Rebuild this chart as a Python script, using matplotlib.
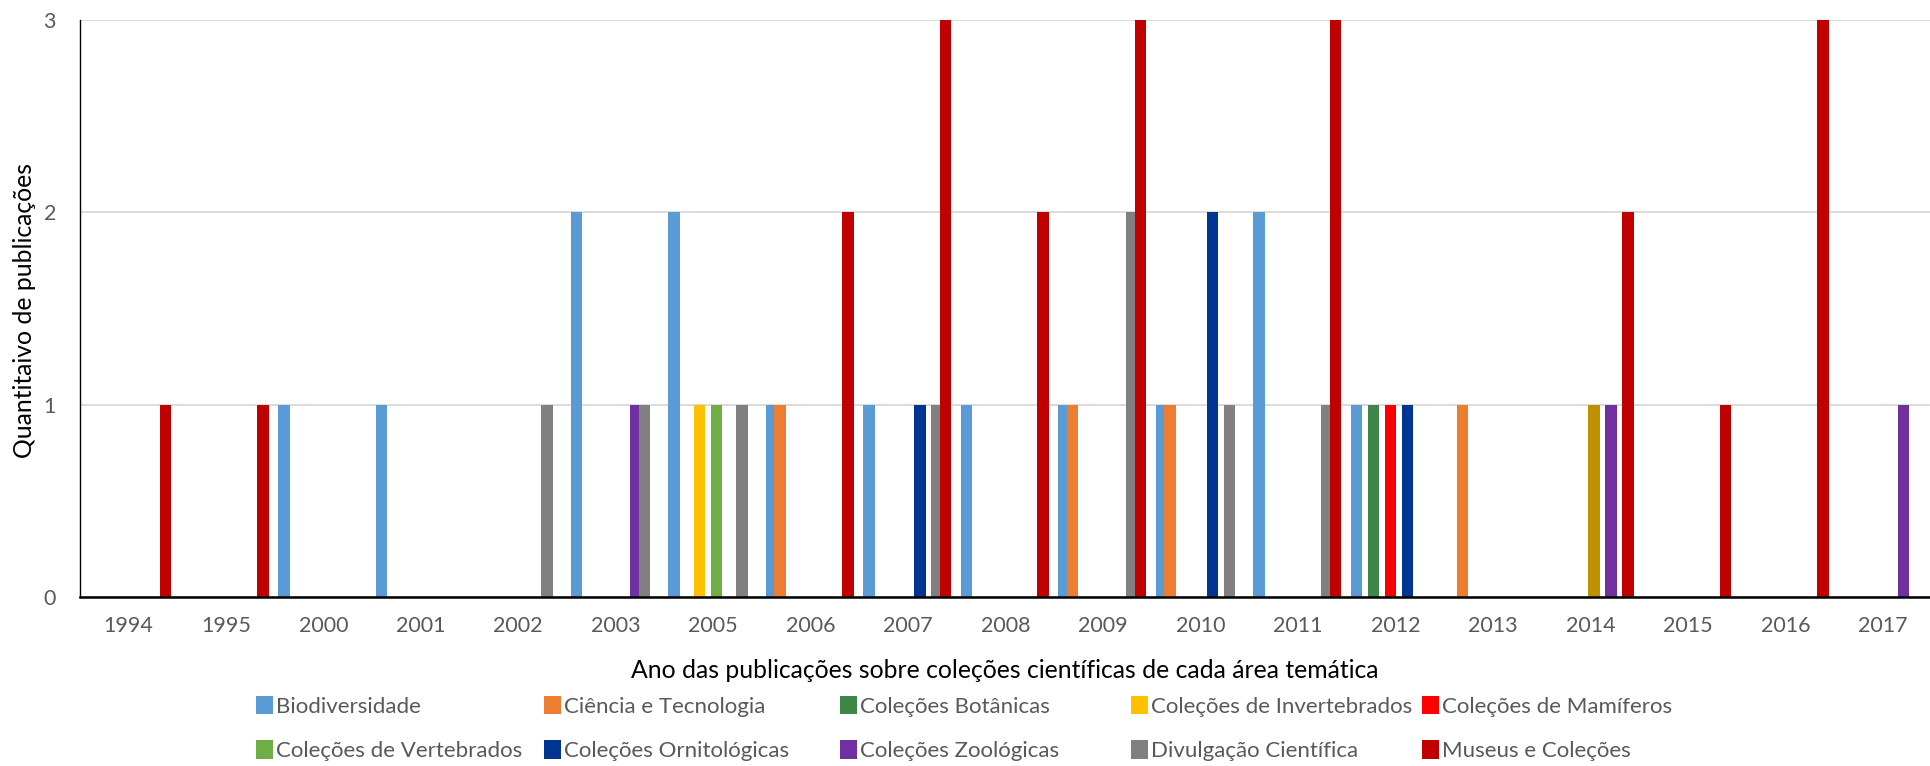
import matplotlib
matplotlib.use("Agg")
import matplotlib.pyplot as plt
from matplotlib.patches import Patch
import numpy as np

plt.rcParams["font.family"] = ["Lato", "DejaVu Sans"]

years = [1994, 1995, 2000, 2001, 2002, 2003, 2005, 2006, 2007, 2008,
         2009, 2010, 2011, 2012, 2013, 2014, 2015, 2016, 2017]

# publications per year, one list per thematic area
biodiversidade = [0, 0, 1, 1, 0, 2, 2, 1, 1, 1, 1, 1, 2, 1, 0, 0, 0, 0, 0]
ciencia_tecnologia = [0, 0, 0, 0, 0, 0, 0, 1, 0, 0, 1, 1, 0, 0, 1, 0, 0, 0, 0]
botanicas = [0, 0, 0, 0, 0, 0, 0, 0, 0, 0, 0, 0, 0, 1, 0, 0, 0, 0, 0]
invertebrados = [0, 0, 0, 0, 0, 0, 1, 0, 0, 0, 0, 0, 0, 0, 0, 0, 0, 0, 0]
mamiferos = [0, 0, 0, 0, 0, 0, 0, 0, 0, 0, 0, 0, 0, 1, 0, 0, 0, 0, 0]
vertebrados = [0, 0, 0, 0, 0, 0, 1, 0, 0, 0, 0, 0, 0, 0, 0, 1, 0, 0, 0]
ornitologicas = [0, 0, 0, 0, 0, 0, 0, 0, 1, 0, 0, 2, 0, 1, 0, 0, 0, 0, 0]
zoologicas = [0, 0, 0, 0, 0, 1, 0, 0, 0, 0, 0, 0, 0, 0, 0, 1, 0, 0, 1]
divulgacao = [0, 0, 0, 0, 1, 1, 1, 0, 1, 0, 2, 1, 1, 0, 0, 0, 0, 0, 0]
museus = [1, 1, 0, 0, 0, 0, 0, 2, 3, 2, 3, 0, 3, 0, 0, 2, 1, 3, 0]

series_names = ["Biodiversidade", "Ciência e Tecnologia", "Coleções Botânicas",
                "Coleções de Invertebrados", "Coleções de Mamíferos",
                "Coleções de Vertebrados", "Coleções Ornitológicas",
                "Coleções Zoológicas", "Divulgação Científica", "Museus e Coleções"]
series_values = [biodiversidade, ciencia_tecnologia, botanicas, invertebrados, mamiferos,
                 vertebrados, ornitologicas, zoologicas, divulgacao, museus]
colors = ["#5B9BD5", "#ED7D31", "#3F8749", "#FFC000", "#FF0000",
          "#70AD47", "#003591", "#7030A0", "#808080", "#C00000"]
# single point recoloured in the original sheet
point_colors = {("Coleções de Vertebrados", 2014): "#BF9000"}

W, H = 1930, 766
fig = plt.figure(figsize=(W / 100, H / 100), dpi=100)
ax = fig.add_axes([79.5 / W, 1 - 597 / H, 1852.5 / W, 577.3 / H])

x = np.arange(len(years))
step, bw = 0.0871, 0.119
for i, (name, vals, col) in enumerate(zip(series_names, series_values, colors)):
    bars = ax.bar(x + (i - 4.5) * step - 0.011, vals, width=bw, color=col,
                  linewidth=0, zorder=3)
    for (nm, yr), c in point_colors.items():
        if nm == name:
            bars[years.index(yr)].set_facecolor(c)

ax.set_xlim(-0.5, len(years) - 0.5)
ax.set_ylim(0, 3)
ax.set_yticks([0, 1, 2, 3])
ax.set_xticks(x)
ax.set_xticklabels([str(y) for y in years])
ax.tick_params(axis="both", length=0, labelsize=15.5, labelcolor="#595959")
ax.tick_params(axis="y", pad=17)
ax.tick_params(axis="x", pad=14)
ax.grid(axis="y", color="#D9D9D9", linewidth=1.3, zorder=0)
ax.set_axisbelow(True)
for s in ("top", "right"):
    ax.spines[s].set_visible(False)
ax.spines["left"].set_linewidth(1.0)
ax.spines["bottom"].set_linewidth(1.8)
ax.spines["bottom"].set_zorder(5)

fig.text(25 / W, 1 - 311 / H, "Quantitaivo de publicações", rotation=90,
         ha="center", va="center", fontsize=17.8, color="black")
fig.text(1005 / W, 1 - 670 / H,
         "Ano das publicações sobre coleções científicas de cada área temática",
         ha="center", va="center", fontsize=17.8, color="black")

col_x = [256, 544, 840, 1131, 1422]
for c, cx in enumerate(col_x):
    hs = [Patch(facecolor=colors[c], linewidth=0), Patch(facecolor=colors[c + 5], linewidth=0)]
    fig.legend(hs, [series_names[c], series_names[c + 5]], loc="upper left",
               bbox_to_anchor=(cx / W, 1 - 696 / H), frameon=False, fontsize=16,
               labelcolor="#595959", borderpad=0, borderaxespad=0,
               handlelength=0.75, handleheight=0.9, handletextpad=0.15,
               labelspacing=1.05)

fig.savefig("out.png", dpi=100)
